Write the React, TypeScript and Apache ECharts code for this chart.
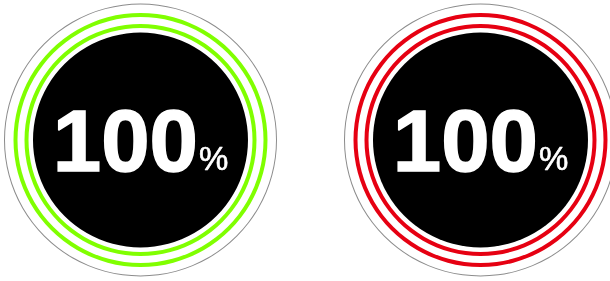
import React, { useEffect, useRef } from "react";
import * as echarts from "echarts";

const values = [100, 100];
const maxValue = 100;
const ringColors = ["#80ff00", "#e60012"];
const centersX = [140.5, 480.5];

export default function App() {
  const ref = useRef<HTMLDivElement>(null);
  useEffect(() => {
    document.body.style.margin = "0";
    const chart = echarts.init(ref.current!, undefined, { renderer: "svg" });
    const series: any[] = [];
    values.forEach((v, i) => {
      const center = [centersX[i], 140];
      const ringData = [
        { value: v, itemStyle: { color: ringColors[i] } },
        { value: maxValue - v, itemStyle: { color: "transparent" } },
      ];
      const base = {
        type: "pie",
        center,
        silent: true,
        label: { show: false },
        labelLine: { show: false },
        startAngle: 90,
        clockwise: true,
      };
      series.push({
        ...base,
        radius: [135.5, 136.5],
        data: [{ value: maxValue, itemStyle: { color: "#8c8c8c" } }],
      });
      series.push({ ...base, radius: [123, 127], data: ringData });
      series.push({ ...base, radius: [112, 116], data: ringData });
      series.push({
        ...base,
        radius: [0, 107.5],
        data: [{ value: maxValue, itemStyle: { color: "#000" } }],
        label: {
          show: true,
          position: "center",
          formatter: () => `{a|${v}}{b|%}`,
          rich: {
            a: {
              fontFamily: "'Liberation Sans', Arial, sans-serif",
              fontWeight: "bold",
              fontSize: 87,
              color: "#fff",
              textBorderColor: "#fff",
              textBorderWidth: 1.5,
              lineHeight: 86,
            },
            b: {
              fontFamily: "'Liberation Sans', Arial, sans-serif",
              fontSize: 33,
              color: "#fff",
              textBorderColor: "#fff",
              textBorderWidth: 0.6,
              verticalAlign: "bottom",
              lineHeight: 32,
              padding: [0, 0, 8, 1],
            },
          },
        },
      });
    });
    chart.setOption({ animation: false, series });
    return () => chart.dispose();
  }, []);
  return (
    <div
      ref={ref}
      style={{ position: "fixed", left: 0, top: 0, width: 610, height: 281 }}
    />
  );
}
